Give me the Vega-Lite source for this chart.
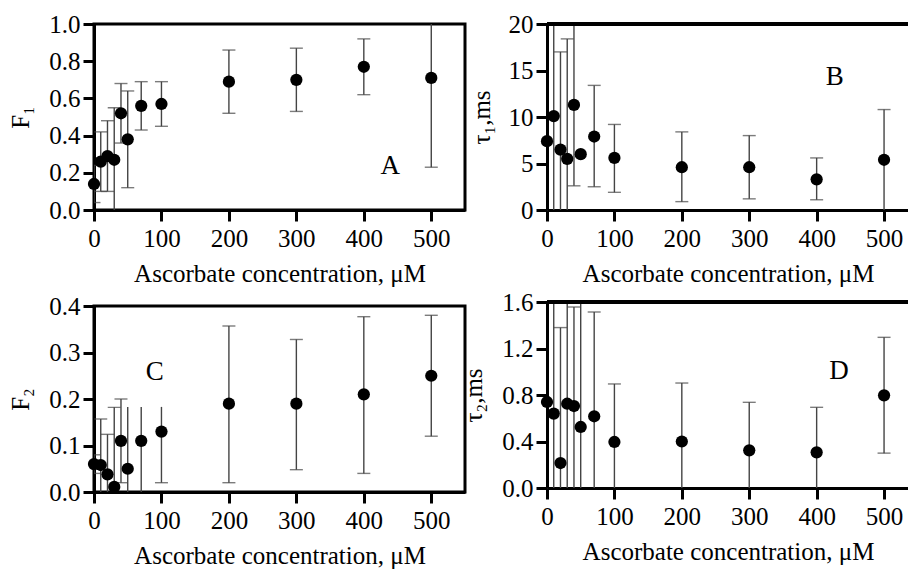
{
  "$schema": "https://vega.github.io/schema/vega-lite/v6.json",
  "padding": {"left": 6, "top": 10, "right": 0, "bottom": 0},
  "background": "white",
  "config": {
    "view": {"stroke": "black", "strokeWidth": 3},
    "font": "Liberation Serif",
    "style": {"guide-label": {"font": "Liberation Serif", "fontSize": 25, "fill": "black"}, "guide-title": {"font": "Liberation Serif", "fontSize": 25, "fill": "black", "fontWeight": "normal"}},
    "axis": {
      "labelFont": "Liberation Serif", "labelFontSize": 25, "labelColor": "black",
      "titleFont": "Liberation Serif", "titleFontSize": 25, "titleFontWeight": "normal", "titleColor": "black",
      "domainColor": "black", "domainWidth": 3, "tickColor": "black", "tickWidth": 3, "tickSize": 11,
      "labelPadding": 3, "grid": false, "labelFlush": false, "labelOverlap": false, "labelSeparation": 0
    },
    "axisY": {"labelOverlap": false},
    "axisQuantitative": {"labelOverlap": false},
    "axisX": {"labelPadding": 5, "titlePadding": 10}
  },
  "datasets": {
    "f1": [
      {"c": 0, "v": 0.14, "lo": 0.04, "hi": 0.24, "capLo": 0.04, "capHi": 0.24},
      {"c": 10, "v": 0.26, "lo": 0.10, "hi": 0.42, "capLo": 0.10, "capHi": 0.42},
      {"c": 20, "v": 0.29, "lo": 0.10, "hi": 0.48, "capLo": 0.10, "capHi": 0.48},
      {"c": 30, "v": 0.27, "lo": -0.1, "hi": 0.55, "capLo": null, "capHi": 0.55},
      {"c": 40, "v": 0.52, "lo": 0.36, "hi": 0.68, "capLo": 0.36, "capHi": 0.68},
      {"c": 50, "v": 0.38, "lo": 0.12, "hi": 0.64, "capLo": 0.12, "capHi": 0.64},
      {"c": 70, "v": 0.56, "lo": 0.43, "hi": 0.69, "capLo": 0.43, "capHi": 0.69},
      {"c": 100, "v": 0.57, "lo": 0.45, "hi": 0.69, "capLo": 0.45, "capHi": 0.69},
      {"c": 200, "v": 0.69, "lo": 0.52, "hi": 0.86, "capLo": 0.52, "capHi": 0.86},
      {"c": 300, "v": 0.70, "lo": 0.53, "hi": 0.87, "capLo": 0.53, "capHi": 0.87},
      {"c": 400, "v": 0.77, "lo": 0.62, "hi": 0.92, "capLo": 0.62, "capHi": 0.92},
      {"c": 500, "v": 0.71, "lo": 0.23, "hi": 1.2, "capLo": 0.23, "capHi": null}
    ],
    "tau1": [
      {"c": 0, "v": 7.4, "lo": null, "hi": null, "capLo": null, "capHi": null},
      {"c": 10, "v": 10.1, "lo": -5, "hi": 25, "capLo": null, "capHi": null},
      {"c": 20, "v": 6.5, "lo": -5, "hi": 17.0, "capLo": null, "capHi": 17.0},
      {"c": 30, "v": 5.5, "lo": -5, "hi": 18.4, "capLo": null, "capHi": 18.4},
      {"c": 40, "v": 11.3, "lo": 2.6, "hi": 25, "capLo": 2.6, "capHi": null},
      {"c": 50, "v": 6.0, "lo": null, "hi": null, "capLo": null, "capHi": null},
      {"c": 70, "v": 7.9, "lo": 2.5, "hi": 13.4, "capLo": 2.5, "capHi": 13.4},
      {"c": 100, "v": 5.6, "lo": 1.9, "hi": 9.2, "capLo": 1.9, "capHi": 9.2},
      {"c": 200, "v": 4.6, "lo": 0.9, "hi": 8.4, "capLo": 0.9, "capHi": 8.4},
      {"c": 300, "v": 4.6, "lo": 1.2, "hi": 8.0, "capLo": 1.2, "capHi": 8.0},
      {"c": 400, "v": 3.3, "lo": 1.1, "hi": 5.6, "capLo": 1.1, "capHi": 5.6},
      {"c": 500, "v": 5.4, "lo": -5, "hi": 10.8, "capLo": null, "capHi": 10.8}
    ],
    "f2": [
      {"c": 0, "v": 0.06, "lo": 0.04, "hi": 0.08, "capLo": 0.04, "capHi": 0.08},
      {"c": 10, "v": 0.058, "lo": -0.05, "hi": 0.157, "capLo": null, "capHi": 0.157},
      {"c": 20, "v": 0.038, "lo": -0.05, "hi": 0.124, "capLo": null, "capHi": 0.124},
      {"c": 30, "v": 0.011, "lo": -0.05, "hi": 0.182, "capLo": null, "capHi": 0.182},
      {"c": 40, "v": 0.11, "lo": 0.02, "hi": 0.20, "capLo": 0.02, "capHi": 0.20},
      {"c": 50, "v": 0.05, "lo": -0.05, "hi": 0.183, "capLo": null, "capHi": null},
      {"c": 70, "v": 0.11, "lo": -0.05, "hi": 0.183, "capLo": null, "capHi": null},
      {"c": 100, "v": 0.13, "lo": 0.02, "hi": 0.183, "capLo": 0.02, "capHi": null},
      {"c": 200, "v": 0.19, "lo": 0.02, "hi": 0.357, "capLo": 0.02, "capHi": 0.357},
      {"c": 300, "v": 0.19, "lo": 0.048, "hi": 0.328, "capLo": 0.048, "capHi": 0.328},
      {"c": 400, "v": 0.21, "lo": 0.04, "hi": 0.377, "capLo": 0.04, "capHi": 0.377},
      {"c": 500, "v": 0.25, "lo": 0.12, "hi": 0.38, "capLo": 0.12, "capHi": 0.38}
    ],
    "tau2": [
      {"c": 0, "v": 0.74, "lo": null, "hi": null, "capLo": null, "capHi": null},
      {"c": 10, "v": 0.64, "lo": -0.5, "hi": 2.0, "capLo": null, "capHi": null},
      {"c": 20, "v": 0.215, "lo": -0.5, "hi": 1.38, "capLo": null, "capHi": 1.38},
      {"c": 30, "v": 0.725, "lo": -0.5, "hi": 2.0, "capLo": null, "capHi": null},
      {"c": 40, "v": 0.705, "lo": -0.5, "hi": 1.557, "capLo": null, "capHi": 1.557},
      {"c": 50, "v": 0.525, "lo": -0.5, "hi": 2.0, "capLo": null, "capHi": null},
      {"c": 70, "v": 0.617, "lo": -0.5, "hi": 1.514, "capLo": null, "capHi": 1.514},
      {"c": 100, "v": 0.396, "lo": -0.5, "hi": 0.895, "capLo": null, "capHi": 0.895},
      {"c": 200, "v": 0.40, "lo": -0.5, "hi": 0.903, "capLo": null, "capHi": 0.903},
      {"c": 300, "v": 0.324, "lo": -0.5, "hi": 0.737, "capLo": null, "capHi": 0.737},
      {"c": 400, "v": 0.307, "lo": -0.5, "hi": 0.694, "capLo": null, "capHi": 0.694},
      {"c": 500, "v": 0.797, "lo": 0.30, "hi": 1.296, "capLo": 0.30, "capHi": 1.296}
    ],
    "letters": [
      {"panel": "A", "x": 439, "y": 0.194},
      {"panel": "B", "x": 427, "y": 13.44},
      {"panel": "C", "x": 90, "y": 0.24},
      {"panel": "D", "x": 433, "y": 0.94}
    ]
  },
  "spacing": -6,
  "hconcat": [
    {
      "spacing": 4,
      "vconcat": [
        {
          "width": 371, "height": 186,
          "data": {"name": "f1"},
          "layer": [
            {"mark": {"type": "rule", "clip": true, "color": "#444444", "strokeWidth": 1.4},
             "encoding": {
               "x": {"field": "c", "type": "quantitative", "scale": {"domain": [0, 550], "nice": false}, "axis": {"values": [0, 100, 200, 300, 400, 500], "labelOverlap": false, "labelFont": "Liberation Serif", "labelFontSize": 25}, "title": "Ascorbate concentration, μM"},
               "y": {"field": "lo", "type": "quantitative", "scale": {"domain": [0, 1], "nice": false}, "axis": {"values": [0, 0.2, 0.4, 0.6, 0.8, 1.0], "format": ".1f", "labelOverlap": false, "labelSeparation": 0, "minExtent": 47, "maxExtent": 47, "titlePadding": 14, "labelFont": "Liberation Serif", "labelFontSize": 25}, "title": "F₁"},
               "y2": {"field": "hi"}}},
            {"mark": {"type": "tick", "orient": "horizontal", "clip": true, "color": "#444444", "size": 13, "thickness": 1.4},
             "encoding": {"x": {"field": "c", "type": "quantitative", "title": "Ascorbate concentration, μM"}, "y": {"field": "capLo", "type": "quantitative", "title": "F₁", "axis": {"values": [0, 0.2, 0.4, 0.6, 0.8, 1.0], "format": ".1f", "labelOverlap": false}}}},
            {"mark": {"type": "tick", "orient": "horizontal", "clip": true, "color": "#444444", "size": 13, "thickness": 1.4},
             "encoding": {"x": {"field": "c", "type": "quantitative", "title": "Ascorbate concentration, μM"}, "y": {"field": "capHi", "type": "quantitative", "title": "F₁", "axis": {"values": [0, 0.2, 0.4, 0.6, 0.8, 1.0], "format": ".1f", "labelOverlap": false}}}},
            {"mark": {"type": "circle", "size": 150, "opacity": 1, "color": "black"},
             "encoding": {"x": {"field": "c", "type": "quantitative", "title": "Ascorbate concentration, μM"}, "y": {"field": "v", "type": "quantitative", "title": "F₁", "axis": {"values": [0, 0.2, 0.4, 0.6, 0.8, 1.0], "format": ".1f", "labelOverlap": false}}}},
            {"data": {"name": "letters"}, "transform": [{"filter": "datum.panel === 'A'"}],
             "mark": {"type": "text", "font": "Liberation Serif", "fontSize": 27, "baseline": "alphabetic", "align": "center", "color": "black"},
             "encoding": {"x": {"field": "x", "type": "quantitative", "title": "Ascorbate concentration, μM"}, "y": {"field": "y", "type": "quantitative", "title": "F₁", "axis": {"values": [0, 0.2, 0.4, 0.6, 0.8, 1.0], "format": ".1f", "labelOverlap": false}}, "text": {"field": "panel"}}}
          ]
        },
        {
          "width": 371, "height": 186,
          "data": {"name": "f2"},
          "layer": [
            {"mark": {"type": "rule", "clip": true, "color": "#444444", "strokeWidth": 1.4},
             "encoding": {
               "x": {"field": "c", "type": "quantitative", "scale": {"domain": [0, 550], "nice": false}, "axis": {"values": [0, 100, 200, 300, 400, 500], "labelOverlap": false, "labelFont": "Liberation Serif", "labelFontSize": 25}, "title": "Ascorbate concentration, μM"},
               "y": {"field": "lo", "type": "quantitative", "scale": {"domain": [0, 0.4], "nice": false}, "axis": {"values": [0, 0.1, 0.2, 0.3, 0.4], "format": ".1f", "labelOverlap": false, "minExtent": 47, "maxExtent": 47, "titlePadding": 14, "labelFont": "Liberation Serif", "labelFontSize": 25}, "title": "F₂"},
               "y2": {"field": "hi"}}},
            {"mark": {"type": "tick", "orient": "horizontal", "clip": true, "color": "#444444", "size": 13, "thickness": 1.4},
             "encoding": {"x": {"field": "c", "type": "quantitative", "title": "Ascorbate concentration, μM"}, "y": {"field": "capLo", "type": "quantitative", "title": "F₂"}}},
            {"mark": {"type": "tick", "orient": "horizontal", "clip": true, "color": "#444444", "size": 13, "thickness": 1.4},
             "encoding": {"x": {"field": "c", "type": "quantitative", "title": "Ascorbate concentration, μM"}, "y": {"field": "capHi", "type": "quantitative", "title": "F₂"}}},
            {"mark": {"type": "circle", "size": 150, "opacity": 1, "color": "black"},
             "encoding": {"x": {"field": "c", "type": "quantitative", "title": "Ascorbate concentration, μM"}, "y": {"field": "v", "type": "quantitative", "title": "F₂"}}},
            {"data": {"name": "letters"}, "transform": [{"filter": "datum.panel === 'C'"}],
             "mark": {"type": "text", "font": "Liberation Serif", "fontSize": 27, "baseline": "alphabetic", "align": "center", "color": "black"},
             "encoding": {"x": {"field": "x", "type": "quantitative", "title": "Ascorbate concentration, μM"}, "y": {"field": "y", "type": "quantitative", "title": "F₂"}, "text": {"field": "panel"}}}
          ]
        }
      ]
    },
    {
      "spacing": 4,
      "vconcat": [
        {
          "width": 362, "height": 186,
          "view": {"stroke": null},
          "data": {"name": "tau1"},
          "layer": [
            {"mark": {"type": "rule", "clip": true, "color": "#444444", "strokeWidth": 1.4},
             "encoding": {
               "x": {"field": "c", "type": "quantitative", "scale": {"domain": [0, 537], "nice": false}, "axis": {"values": [0, 100, 200, 300, 400, 500], "labelOverlap": false, "labelFont": "Liberation Serif", "labelFontSize": 25}, "title": "Ascorbate concentration, μM"},
               "y": {"field": "lo", "type": "quantitative", "scale": {"domain": [0, 20], "nice": false}, "axis": {"values": [0, 5, 10, 15, 20], "format": "d", "labelOverlap": false, "minExtent": 39, "maxExtent": 39, "titlePadding": 14, "labelFont": "Liberation Serif", "labelFontSize": 25}, "title": "τ₁,ms"},
               "y2": {"field": "hi"}}},
            {"mark": {"type": "tick", "orient": "horizontal", "clip": true, "color": "#444444", "size": 13, "thickness": 1.4},
             "encoding": {"x": {"field": "c", "type": "quantitative", "title": "Ascorbate concentration, μM"}, "y": {"field": "capLo", "type": "quantitative", "title": "τ₁,ms"}}},
            {"mark": {"type": "tick", "orient": "horizontal", "clip": true, "color": "#444444", "size": 13, "thickness": 1.4},
             "encoding": {"x": {"field": "c", "type": "quantitative", "title": "Ascorbate concentration, μM"}, "y": {"field": "capHi", "type": "quantitative", "title": "τ₁,ms"}}},
            {"mark": {"type": "rule", "color": "black", "strokeWidth": 3},
             "encoding": {"y": {"datum": 20}}},
            {"mark": {"type": "circle", "size": 150, "opacity": 1, "color": "black"},
             "encoding": {"x": {"field": "c", "type": "quantitative", "title": "Ascorbate concentration, μM"}, "y": {"field": "v", "type": "quantitative", "title": "τ₁,ms"}}},
            {"data": {"name": "letters"}, "transform": [{"filter": "datum.panel === 'B'"}],
             "mark": {"type": "text", "font": "Liberation Serif", "fontSize": 27, "baseline": "alphabetic", "align": "center", "color": "black"},
             "encoding": {"x": {"field": "x", "type": "quantitative", "title": "Ascorbate concentration, μM"}, "y": {"field": "y", "type": "quantitative", "title": "τ₁,ms"}, "text": {"field": "panel"}}}
          ]
        },
        {
          "width": 362, "height": 186,
          "view": {"stroke": null},
          "data": {"name": "tau2"},
          "layer": [
            {"mark": {"type": "rule", "clip": true, "color": "#444444", "strokeWidth": 1.4},
             "encoding": {
               "x": {"field": "c", "type": "quantitative", "scale": {"domain": [0, 537], "nice": false}, "axis": {"values": [0, 100, 200, 300, 400, 500], "labelOverlap": false, "labelFont": "Liberation Serif", "labelFontSize": 25}, "title": "Ascorbate concentration, μM"},
               "y": {"field": "lo", "type": "quantitative", "scale": {"domain": [0, 1.6], "nice": false}, "axis": {"values": [0, 0.4, 0.8, 1.2, 1.6], "format": ".1f", "labelOverlap": false, "minExtent": 47, "maxExtent": 47, "titlePadding": 14, "labelFont": "Liberation Serif", "labelFontSize": 25}, "title": "τ₂,ms"},
               "y2": {"field": "hi"}}},
            {"mark": {"type": "tick", "orient": "horizontal", "clip": true, "color": "#444444", "size": 13, "thickness": 1.4},
             "encoding": {"x": {"field": "c", "type": "quantitative", "title": "Ascorbate concentration, μM"}, "y": {"field": "capLo", "type": "quantitative", "title": "τ₂,ms"}}},
            {"mark": {"type": "tick", "orient": "horizontal", "clip": true, "color": "#444444", "size": 13, "thickness": 1.4},
             "encoding": {"x": {"field": "c", "type": "quantitative", "title": "Ascorbate concentration, μM"}, "y": {"field": "capHi", "type": "quantitative", "title": "τ₂,ms"}}},
            {"mark": {"type": "rule", "color": "black", "strokeWidth": 3},
             "encoding": {"y": {"datum": 1.6}}},
            {"mark": {"type": "circle", "size": 150, "opacity": 1, "color": "black"},
             "encoding": {"x": {"field": "c", "type": "quantitative", "title": "Ascorbate concentration, μM"}, "y": {"field": "v", "type": "quantitative", "title": "τ₂,ms"}}},
            {"data": {"name": "letters"}, "transform": [{"filter": "datum.panel === 'D'"}],
             "mark": {"type": "text", "font": "Liberation Serif", "fontSize": 27, "baseline": "alphabetic", "align": "center", "color": "black"},
             "encoding": {"x": {"field": "x", "type": "quantitative", "title": "Ascorbate concentration, μM"}, "y": {"field": "y", "type": "quantitative", "title": "τ₂,ms"}, "text": {"field": "panel"}}}
          ]
        }
      ]
    }
  ]
}
